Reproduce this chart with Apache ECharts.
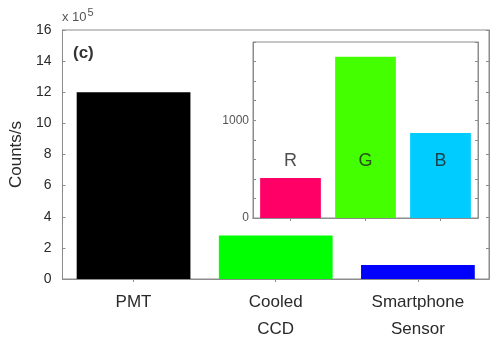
<!DOCTYPE html>
<html>
<head>
<meta charset="utf-8">
<script src="https://cdn.jsdelivr.net/npm/echarts@6/dist/echarts.min.js"></script>
<style>
html, body { margin: 0; padding: 0; background: #fff; }
#chart { width: 491px; height: 343px; }
</style>
</head>
<body>
<div id="chart"></div>
<script>
// main panel, counts/s in units of 1e5
const detectors = ['PMT', 'Cooled\nCCD', 'Smartphone\nSensor'];
const detectorCounts = [12, 2.8, 0.9];
const detectorColors = ['#000000', '#00ff00', '#0000ff'];

// inset: smartphone sensor channels
const channels = ['R', 'G', 'B'];
const channelCounts = [410, 1650, 870];
const channelColors = ['#ff0066', '#44ff00', '#00ccff'];
const channelLabelLevel = 580;   // height where the R/G/B letters sit
const insetTickLabels = [0, 1000];

const axisGray = '#8c8c8c';
const textColor = '#2a2a2a';
const font = 'Liberation Sans, Arial, sans-serif';

const chart = echarts.init(document.getElementById('chart'));

function tickAxis(extra) {
  // frame axis used only for inward ticks (matlab style box)
  return Object.assign({
    axisLine: { show: true, lineStyle: { color: axisGray } },
    axisTick: { show: true, inside: true, length: 3, lineStyle: { color: axisGray } },
    axisLabel: { show: false },
    splitLine: { show: false }
  }, extra);
}

const option = {
  animation: false,
  grid: [
    { left: 62, top: 30, right: 2, bottom: 61, show: true, borderColor: axisGray, borderWidth: 1 },
    { left: 253, top: 42, width: 225, height: 176, show: true, borderColor: axisGray, borderWidth: 1,
      backgroundColor: '#fff', z: 3 }
  ],
  xAxis: [
    tickAxis({
      type: 'category', gridIndex: 0, position: 'bottom', data: detectors,
      axisTick: { show: false },
      axisLabel: { show: true, color: textColor, fontSize: 17, lineHeight: 27, margin: 10, fontFamily: font }
    }),
    tickAxis({ type: 'category', gridIndex: 0, position: 'top', data: detectors,
      axisTick: { show: true, inside: true, alignWithLabel: true, length: 3, lineStyle: { color: axisGray } } }),
    tickAxis({ type: 'category', gridIndex: 1, position: 'bottom', data: channels, z: 4,
      axisTick: { show: false } }),
    tickAxis({ type: 'category', gridIndex: 1, position: 'top', data: channels, z: 4,
      axisTick: { show: true, inside: true, alignWithLabel: true, length: 3, lineStyle: { color: axisGray } } })
  ],
  yAxis: [
    tickAxis({
      type: 'value', gridIndex: 0, position: 'left', min: 0, max: 16, interval: 2,
      axisLabel: { show: true, color: textColor, fontSize: 14, margin: 11, fontFamily: font },
      name: 'Counts/s', nameLocation: 'middle', nameRotate: 90, nameGap: 29,
      nameTextStyle: { color: textColor, fontSize: 17, fontFamily: font }
    }),
    tickAxis({ type: 'value', gridIndex: 0, position: 'right', min: 0, max: 16, interval: 2 }),
    tickAxis({
      type: 'value', gridIndex: 1, position: 'left', min: 0, max: 1800, interval: 200, z: 4,
      axisLabel: { show: true, color: '#555', fontSize: 12, margin: 4, fontFamily: font,
        formatter: v => insetTickLabels.includes(v) ? String(v) : '' }
    }),
    tickAxis({ type: 'value', gridIndex: 1, position: 'right', min: 0, max: 1800, interval: 200, z: 4 })
  ],
  series: [
    {
      type: 'bar', xAxisIndex: 0, yAxisIndex: 0, barWidth: '80%',
      data: detectorCounts.map((v, i) => ({ value: v, itemStyle: { color: detectorColors[i] } }))
    },
    {
      type: 'bar', xAxisIndex: 2, yAxisIndex: 2, barWidth: '81%', z: 5,
      data: channelCounts.map((v, i) => ({ value: v, itemStyle: { color: channelColors[i] } }))
    },
    {
      type: 'scatter', xAxisIndex: 2, yAxisIndex: 2, symbolSize: 0, z: 6,
      data: channels.map(() => channelLabelLevel),
      label: {
        show: true, position: 'inside', color: '#222', fontSize: 18, fontFamily: font,
        formatter: p => channels[p.dataIndex]
      }
    }
  ],
  graphic: [
    {
      type: 'text', left: 73, top: 45,
      style: { text: '(c)', fontSize: 17, fontWeight: 'bold', fill: '#333', fontFamily: font }
    },
    {
      type: 'text', left: 62, top: 7,
      style: {
        text: '{b|x 10}{s|5}',
        rich: {
          b: { fontSize: 13, fill: '#555', fontFamily: font, padding: [6, 0, 0, 0] },
          s: { fontSize: 11, fill: '#555', fontFamily: font, padding: [0, 0, 4, 1] }
        }
      }
    }
  ]
};

chart.setOption(option);
</script>
</body>
</html>
